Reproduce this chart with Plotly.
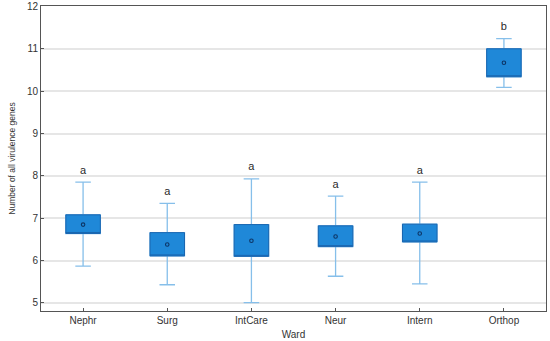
import plotly.graph_objects as go

wards = ["Nephr", "Surg", "IntCare", "Neur", "Intern", "Orthop"]
whisker_low = [5.87, 5.43, 5.01, 5.63, 5.45, 10.09]
box_low = [6.64, 6.11, 6.10, 6.33, 6.44, 10.34]
mean_vals = [6.85, 6.38, 6.47, 6.57, 6.64, 10.67]
box_high = [7.08, 6.66, 6.85, 6.82, 6.86, 11.00]
whisker_high = [7.85, 7.35, 7.93, 7.52, 7.85, 11.24]
letters = ["a", "a", "a", "a", "a", "b"]
y_ticks = [5, 6, 7, 8, 9, 10, 11, 12]

fig = go.Figure()

# whiskers
fig.add_trace(go.Box(
    x=wards, q1=box_low, q3=box_high, median=box_low,
    lowerfence=whisker_low, upperfence=whisker_high,
    line=dict(color="#86bfea", width=1.3), fillcolor="#1f88d8",
    width=0.41, whiskerwidth=0.45, boxpoints=False, hoverinfo="skip",
    showlegend=False,
))
# box body
fig.add_trace(go.Box(
    x=wards, q1=box_low, q3=box_high, median=box_low,
    lowerfence=box_low, upperfence=box_high,
    line=dict(color="#1a66b0", width=1), fillcolor="#1f88d8",
    width=0.41, whiskerwidth=0, boxpoints=False, hoverinfo="skip",
    showlegend=False,
))
# means
fig.add_trace(go.Scatter(
    x=wards, y=mean_vals, mode="markers",
    marker=dict(symbol="circle-open", size=3.5, color="#0d3566", line=dict(width=1.1)),
    showlegend=False, hoverinfo="skip",
))
# letters
fig.add_trace(go.Scatter(
    x=wards, y=[w + 0.27 for w in whisker_high], mode="text", text=letters,
    textposition="middle center",
    textfont=dict(family="Liberation Sans, Arial", size=11, color="#2a2a2a"),
    showlegend=False, hoverinfo="skip",
))

fig.update_layout(
    width=550, height=341,
    margin=dict(l=41, r=4, t=6, b=30),
    paper_bgcolor="white", plot_bgcolor="white",
    boxmode="overlay",
    font=dict(family="Liberation Sans, Arial", size=10, color="#333333"),
    xaxis=dict(
        title=dict(text="Ward", font=dict(size=10), standoff=5),
        automargin=False,
        range=[-0.5, 5.5], showline=True, linecolor="#555555", linewidth=1,
        mirror=True, ticks="inside", ticklen=3, tickcolor="#555555",
        showgrid=False, tickfont=dict(size=10),
    ),
    yaxis=dict(
        title=dict(text="Number of all virulence genes", font=dict(size=8.5), standoff=9),
        automargin=False,
        range=[4.81, 12.01], tickvals=y_ticks, showline=True, linecolor="#555555",
        linewidth=1, mirror=True, ticks="inside", ticklen=3, tickcolor="#555555",
        showgrid=True, gridcolor="#e6e6e6", gridwidth=2, zeroline=False,
        tickfont=dict(size=10),
    ),
)

fig.write_html(
    "out.html",
    config={"displayModeBar": False},
    post_script="document.body.style.margin='0';document.body.style.overflow='hidden';",
)
